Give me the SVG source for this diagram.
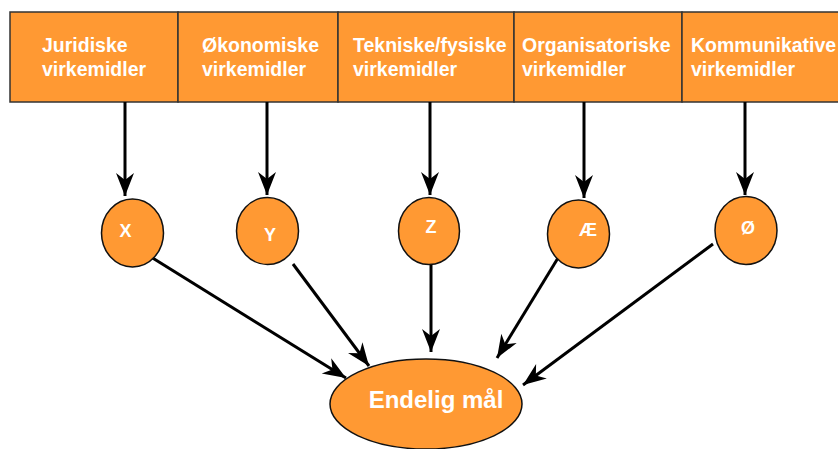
<svg xmlns="http://www.w3.org/2000/svg" width="838" height="449" viewBox="0 0 838 449">
<style>
.box{fill:#FF9933;stroke:#333333;stroke-width:1.5}
.node{fill:#FF9933;stroke:#111111;stroke-width:1.5}
.t{font-family:"Liberation Sans",Arial,sans-serif;font-weight:bold;fill:#FFFFFF}
.top{font-size:19.5px}
.lbl{font-size:18px}
.big{font-size:24px}
.c{stroke:#000000;fill:none;stroke-width:3}
</style>
<defs>
<marker id="ah" markerUnits="userSpaceOnUse" markerWidth="30" markerHeight="24" viewBox="-24 -12 26 24" refX="0" refY="0" orient="auto">
<path d="M0,0 L-23,-9 L-16,0 L-23,9 Z" fill="#000000"/>
</marker>
</defs>
<rect width="838" height="449" fill="#FFFFFF"/>
<g id="box-juridiske">
<rect class="box" x="10" y="12" width="168" height="90"/>
<text class="t top" x="42" y="52">Juridiske</text>
<text class="t top" x="42" y="76">virkemidler</text>
</g>
<g id="box-okonomiske">
<rect class="box" x="178" y="12" width="160" height="90"/>
<text class="t top" x="202" y="52">Økonomiske</text>
<text class="t top" x="202" y="76">virkemidler</text>
</g>
<g id="box-tekniske">
<rect class="box" x="338" y="12" width="176" height="90"/>
<text class="t top" x="353" y="52">Tekniske/fysiske</text>
<text class="t top" x="353" y="76">virkemidler</text>
</g>
<g id="box-organisatoriske">
<rect class="box" x="514" y="12" width="168" height="90"/>
<text class="t top" x="522" y="52">Organisatoriske</text>
<text class="t top" x="522" y="76">virkemidler</text>
</g>
<g id="box-kommunikative">
<rect class="box" x="682" y="12" width="170" height="90"/>
<text class="t top" x="691" y="52">Kommunikative</text>
<text class="t top" x="691" y="76">virkemidler</text>
</g>
<g id="connectors">
<line class="c" x1="125" y1="102" x2="125" y2="196" marker-end="url(#ah)"/>
<line class="c" x1="267" y1="102" x2="267" y2="195" marker-end="url(#ah)"/>
<line class="c" x1="430" y1="102" x2="430" y2="195" marker-end="url(#ah)"/>
<line class="c" x1="584" y1="102" x2="584" y2="198" marker-end="url(#ah)"/>
<line class="c" x1="745" y1="102" x2="745" y2="195" marker-end="url(#ah)"/>
<line class="c" x1="151" y1="257" x2="346" y2="378" marker-end="url(#ah)"/>
<line class="c" x1="293" y1="264" x2="369" y2="366" marker-end="url(#ah)"/>
<line class="c" x1="431" y1="265" x2="431" y2="352" marker-end="url(#ah)"/>
<line class="c" x1="558" y1="258" x2="497" y2="358" marker-end="url(#ah)"/>
<line class="c" x1="713" y1="244" x2="523" y2="385" marker-end="url(#ah)"/>
</g>
<g id="node-x">
<ellipse class="node" cx="132.5" cy="233" rx="31" ry="34"/>
<text class="t lbl" x="125.5" y="236.5" text-anchor="middle">X</text>
</g>
<g id="node-y">
<ellipse class="node" cx="267.5" cy="231" rx="31" ry="33.5"/>
<text class="t lbl" x="270" y="241" text-anchor="middle">Y</text>
</g>
<g id="node-z">
<ellipse class="node" cx="429" cy="231" rx="30.5" ry="33.5"/>
<text class="t lbl" x="431" y="233" text-anchor="middle">Z</text>
</g>
<g id="node-ae">
<ellipse class="node" cx="578.5" cy="234" rx="31" ry="34"/>
<text class="t lbl" x="588" y="236" text-anchor="middle">Æ</text>
</g>
<g id="node-oe">
<ellipse class="node" cx="746" cy="230.5" rx="31" ry="34"/>
<text class="t lbl" x="748" y="234" text-anchor="middle">Ø</text>
</g>
<g id="node-endelig">
<ellipse class="node" cx="426" cy="404" rx="96" ry="45"/>
<text class="t big" x="436" y="408" text-anchor="middle">Endelig mål</text>
</g>
</svg>
